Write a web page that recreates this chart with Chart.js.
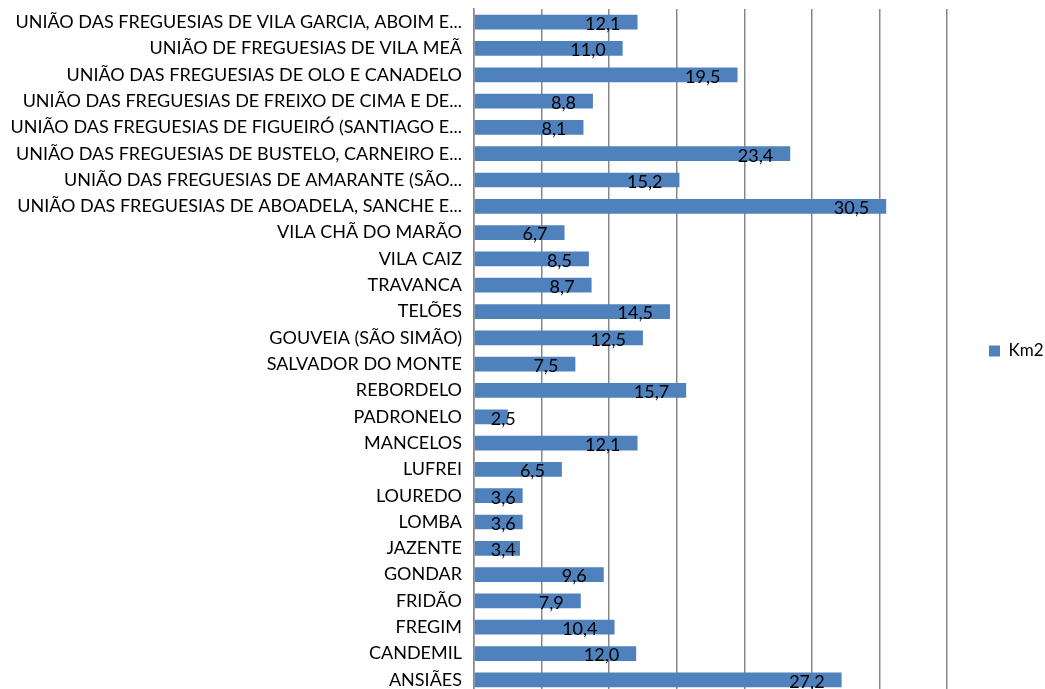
<!DOCTYPE html>
<html>
<head>
<meta charset="utf-8">
<script src="https://cdn.jsdelivr.net/npm/chart.js@4"></script>
<style>
  html, body { margin: 0; padding: 0; overflow: hidden; background: #fff; }
</style>
</head>
<body>
<canvas id="grafico" width="1045" height="693"></canvas>
<script>
const freguesias = [
  'UNIÃO DAS FREGUESIAS DE VILA GARCIA, ABOIM E...',
  'UNIÃO DE FREGUESIAS DE VILA MEÃ',
  'UNIÃO DAS FREGUESIAS DE OLO E CANADELO',
  'UNIÃO DAS FREGUESIAS DE FREIXO DE CIMA E DE...',
  'UNIÃO DAS FREGUESIAS DE FIGUEIRÓ (SANTIAGO E...',
  'UNIÃO DAS FREGUESIAS DE BUSTELO, CARNEIRO E...',
  'UNIÃO DAS FREGUESIAS DE AMARANTE (SÃO...',
  'UNIÃO DAS FREGUESIAS DE ABOADELA, SANCHE E...',
  'VILA CHÃ DO MARÃO',
  'VILA CAIZ',
  'TRAVANCA',
  'TELÕES',
  'GOUVEIA (SÃO SIMÃO)',
  'SALVADOR DO MONTE',
  'REBORDELO',
  'PADRONELO',
  'MANCELOS',
  'LUFREI',
  'LOUREDO',
  'LOMBA',
  'JAZENTE',
  'GONDAR',
  'FRIDÃO',
  'FREGIM',
  'CANDEMIL',
  'ANSIÃES'
]
const km2 = [12.1, 11.0, 19.5, 8.8, 8.1, 23.4, 15.2, 30.5, 6.7, 8.5, 8.7, 14.5, 12.5, 7.5, 15.7, 2.5, 12.1, 6.5, 3.6, 3.6, 3.4, 9.6, 7.9, 10.4, 12.0, 27.2]

const fonte = 'Lato'
const azul = '#4F81BD'
const cinza = '#878787'

// rotulos dentro da ponta da barra, com virgula decimal
const rotulos = {
  id: 'rotulos',
  afterDatasetsDraw(chart) {
    const ctx = chart.ctx
    const meta = chart.getDatasetMeta(0)
    ctx.save()
    ctx.font = '18px ' + fonte
    ctx.fillStyle = '#000'
    ctx.textAlign = 'right'
    ctx.textBaseline = 'middle'
    meta.data.forEach((barra, i) => {
      const texto = km2[i].toFixed(1).replace('.', ',')
      const w = ctx.measureText(texto).width
      const x = Math.max(barra.x - 17, barra.base + 16 + w)
      ctx.fillText(texto, x, barra.y + 2)
    })
    ctx.restore()
  }
}

// legenda a direita com largura fixa
const larguraLegenda = {
  id: 'larguraLegenda',
  beforeLayout(chart) {
    const leg = chart.legend
    if (leg && !leg._ajustada) {
      const fitOriginal = leg.fit
      leg.fit = function () {
        fitOriginal.call(this)
        this.width = 98
      }
      leg._ajustada = true
    }
  }
}

new Chart(document.getElementById('grafico'), {
  type: 'bar',
  data: {
    labels: freguesias,
    datasets: [{
      label: 'Km2',
      data: km2,
      backgroundColor: azul,
      borderWidth: 0,
      barPercentage: 1,
      categoryPercentage: 0.56
    }]
  },
  options: {
    indexAxis: 'y',
    responsive: false,
    animation: false,
    layout: { padding: { top: 9, left: 0, right: 0, bottom: 0 } },
    plugins: {
      legend: {
        position: 'right',
        labels: {
          boxWidth: 11,
          boxHeight: 11,
          padding: 42,
          color: '#000',
          font: { family: fonte, size: 17 }
        }
      },
      tooltip: { enabled: false }
    },
    scales: {
      x: {
        min: 0,
        max: 35,
        ticks: { display: false, stepSize: 5 },
        grid: { color: cinza, lineWidth: 1.5, drawTicks: false },
        border: { display: false },
        afterFit(escala) { escala.height = 0 }
      },
      y: {
        grid: { display: false, drawTicks: false },
        border: { display: true, color: cinza, width: 1.5 },
        ticks: {
          color: '#000',
          padding: 12,
          autoSkip: false,
          font: { family: fonte, size: 18 }
        },
        afterFit(escala) {
          escala.width = 474
          escala.paddingTop = 0
          escala.paddingBottom = 0
        }
      }
    }
  },
  plugins: [rotulos, larguraLegenda]
})
</script>
</body>
</html>
